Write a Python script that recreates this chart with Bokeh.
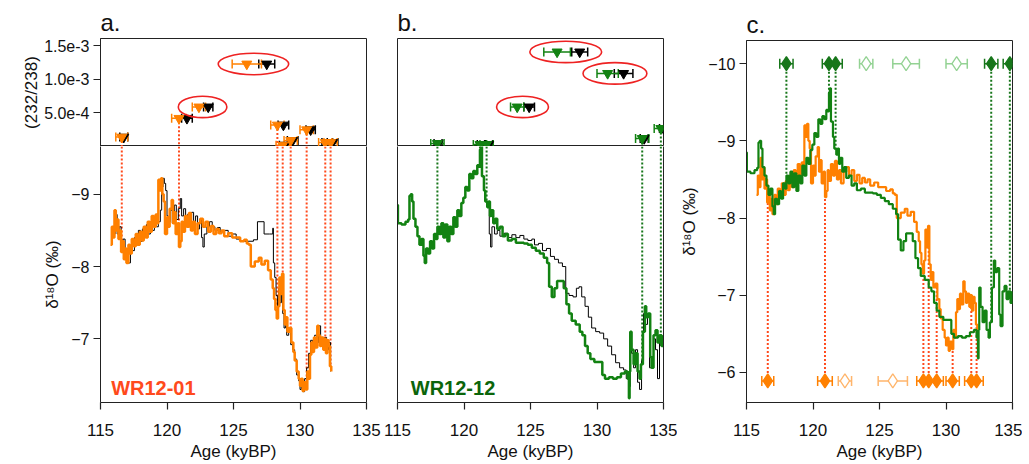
import numpy as np
from bokeh.plotting import figure
from bokeh.models import (Range1d, FixedTicker, Whisker, TeeHead, ColumnDataSource,
                          Label, LinearAxis, PrintfTickFormatter)
from bokeh.layouts import row, column
from bokeh.embed import file_html
from bokeh.resources import INLINE

FONT = "Liberation Sans"

# ---------------- data ----------------
# WR12-01 U/Th dates (corrected = orange, uncorrected = black)
wr01_age = [116.6, 120.9, 122.4, 126.0, 128.3, 128.7, 129.3, 130.5, 131.9, 132.3]
wr01_err = [0.45, 0.55, 0.5, 1.1, 0.5, 0.5, 0.5, 0.5, 0.5, 0.5]
wr01_ratio = [1.4e-4, 4.2e-4, 5.9e-4, 1.23e-3, 3.2e-4, 2e-5, 9e-5, 2.5e-4, 6e-5, 6e-5]
wr01_age_unc = [116.75, 121.5, 123.1, 127.5, 128.75, 128.85, 129.45, 130.8, 132.05, 132.45]
wr01_err_unc = [0.3, 0.4, 0.35, 0.6, 0.4, 0.4, 0.4, 0.35, 0.4, 0.4]
wr01_outlier = [False, False, True, True, False, False, False, False, False, False]

# WR12-12 U/Th dates (corrected = green, uncorrected = black)
wr12_age = [118.0, 121.2, 121.7, 124.0, 127.0, 130.8, 133.4, 134.8]
wr12_err = [0.5, 0.5, 0.5, 0.5, 1.0, 0.8, 0.5, 0.5]
wr12_ratio = [4.5e-5, 3e-5, 3e-5, 5.9e-4, 1.41e-3, 1.09e-3, 1.2e-4, 2.7e-4]
wr12_age_unc = [118.05, 121.3, 121.85, 124.9, 128.7, 132.0, 133.55, 135.0]
wr12_err_unc = [0.3, 0.3, 0.3, 0.4, 0.6, 0.7, 0.3, 0.3]
wr12_outlier = [False, False, False, True, True, True, False, False]

# WR12-01 d18O record (final age model, orange)
wr01_curve_age = [115.75, 115.85, 115.95, 116.05, 116.15, 116.25, 116.35, 116.45, 116.55, 116.65,
                  116.75, 116.85, 116.95, 117.1, 117.2, 117.35, 117.5, 117.65, 117.8, 117.95,
                  118.1, 118.25, 118.4, 118.55, 118.7, 118.85, 119.0, 119.15, 119.25, 119.35,
                  119.45, 119.55, 119.65, 119.75, 119.85, 120.0, 120.1, 120.2, 120.35, 120.45,
                  120.55, 120.65, 120.8, 120.9, 121.0, 121.1, 121.2, 121.35, 121.5, 121.65,
                  121.8, 121.95, 122.1, 122.3, 122.5, 122.7, 122.9, 123.1, 123.3, 123.5,
                  123.7, 123.9, 124.1, 124.3, 124.6, 124.9, 125.2, 125.5, 125.8, 126.0,
                  126.15, 126.3, 126.6, 126.9, 127.1, 127.35, 127.6, 127.8, 127.95, 128.05,
                  128.15, 128.25, 128.35, 128.45, 128.55, 128.65, 128.75, 128.85, 128.95, 129.05,
                  129.2, 129.35, 129.5, 129.6, 129.75, 129.9, 130.0, 130.1, 130.2, 130.3,
                  130.45, 130.55, 130.65, 130.75, 130.85, 130.95, 131.05, 131.15, 131.3, 131.4,
                  131.5, 131.6, 131.75, 131.85, 131.95, 132.05, 132.15, 132.25, 132.35]
wr01_curve_d18o = [-8.30, -8.55, -8.40, -8.78, -8.50, -8.65, -8.38, -8.50, -8.20, -8.35,
                   -8.10, -8.25, -8.05, -8.30, -8.18, -8.38, -8.28, -8.45, -8.30, -8.48,
                   -8.36, -8.55, -8.40, -8.62, -8.48, -8.70, -8.55, -8.72, -8.60, -9.20,
                   -9.05, -9.22, -9.00, -8.90, -8.45, -8.68, -8.55, -8.80, -8.92, -8.60,
                   -8.75, -8.45, -8.60, -8.27, -8.35, -8.62, -8.48, -8.70, -8.55, -8.74,
                   -8.50, -8.62, -8.45, -8.60, -8.66, -8.55, -8.62, -8.48, -8.56, -8.45,
                   -8.52, -8.46, -8.50, -8.42, -8.46, -8.40, -8.40, -8.35, -8.37, -8.32,
                   -8.30, -8.00, -8.07, -8.12, -8.03, -8.08, -7.95, -7.82, -7.70, -7.55,
                   -7.40, -7.28, -7.45, -7.85, -7.62, -7.90, -7.40, -7.20, -7.30, -7.10,
                   -7.15, -6.95, -6.82, -6.70, -6.55, -6.45, -6.35, -6.45, -6.28, -6.40,
                   -6.30, -6.55, -6.45, -6.78, -6.95, -6.82, -7.02, -6.88, -7.18, -7.05,
                   -6.90, -7.02, -6.85, -7.00, -6.80, -6.98, -6.90, -6.62, -6.55]

# WR12-01 d18O record (previous age model, black)
wr01_old_age = [115.8, 115.9, 116.0, 116.1, 116.25, 116.4, 116.55, 116.7, 116.85, 117.0,
                117.1, 117.25, 117.4, 117.55, 117.7, 117.85, 118.0, 118.15, 118.3, 118.45,
                118.6, 118.75, 118.9, 119.05, 119.2, 119.35, 119.5, 119.6, 119.7, 119.8,
                119.9, 120.0, 120.1, 120.25, 120.4, 120.55, 120.7, 120.85, 121.0, 121.1,
                121.25, 121.4, 121.55, 121.7, 121.85, 122.0, 122.15, 122.3, 122.45, 122.6,
                122.7, 122.8, 123.0, 123.2, 123.4, 123.6, 123.8, 124.0, 124.3, 124.6,
                124.9, 125.2, 125.5, 125.8, 126.1, 126.5, 126.8, 127.3, 127.7, 127.95,
                128.0, 128.1, 128.2, 128.3, 128.4, 128.5, 128.6, 128.7, 128.8, 128.9,
                129.0, 129.15, 129.3, 129.45, 129.6, 129.75, 129.9, 130.0, 130.1, 130.2,
                130.35, 130.5, 130.65, 130.8, 130.95, 131.1, 131.25, 131.4, 131.55, 131.7,
                131.85, 132.0, 132.15, 132.3]
wr01_old_d18o = [-8.35, -8.55, -8.45, -8.72, -8.45, -8.55, -8.28, -8.38, -8.15, -8.25,
                 -8.05, -8.28, -8.22, -8.40, -8.30, -8.50, -8.35, -8.52, -8.42, -8.58,
                 -8.45, -8.62, -8.50, -8.68, -8.55, -8.62, -8.78, -9.10, -9.22, -9.15,
                 -9.05, -8.70, -8.62, -8.78, -8.60, -8.85, -8.65, -8.80, -8.94, -8.70,
                 -8.80, -8.60, -8.72, -8.55, -8.75, -8.58, -8.70, -8.52, -8.65, -8.40,
                 -8.27, -8.45, -8.55, -8.62, -8.55, -8.50, -8.54, -8.48, -8.50, -8.42,
                 -8.45, -8.38, -8.36, -8.35, -8.35, -8.37, -8.62, -8.45, -8.45, -8.53,
                 -8.05, -7.85, -7.60, -7.45, -7.70, -7.50, -7.85, -7.35, -7.15, -7.25,
                 -7.05, -7.12, -6.92, -6.85, -6.72, -6.50, -6.42, -6.30, -6.42, -6.27,
                 -6.45, -6.60, -6.80, -6.98, -6.85, -7.05, -6.95, -7.18, -7.00, -6.92,
                 -7.02, -6.85, -6.95, -6.55]

# WR12-12 d18O record (final age model, green)
wr12_curve_age = [115.0, 115.03, 115.3, 115.6, 115.8, 115.9, 116.0, 116.1, 116.2, 116.35, 116.5,
                  116.65, 116.8, 116.95, 117.05, 117.15, 117.3, 117.45, 117.6, 117.75, 117.9,
                  118.0, 118.15, 118.3, 118.45, 118.6, 118.75, 118.9, 119.05, 119.2, 119.35,
                  119.5, 119.65, 119.8, 119.95, 120.1, 120.25, 120.4, 120.55, 120.7, 120.85,
                  121.0, 121.1, 121.2, 121.27, 121.35, 121.5, 121.6, 121.75, 121.85, 121.95,
                  122.05, 122.2, 122.35, 122.5, 122.7, 122.9, 123.1, 123.3, 123.6, 123.9,
                  124.2, 124.5, 124.8, 125.1, 125.4, 125.7, 126.0, 126.25, 126.4, 126.6,
                  126.8, 127.0, 127.3, 127.5, 127.7, 127.9, 128.1, 128.4, 128.7, 128.9,
                  129.1, 129.3, 129.5, 129.8, 130.1, 130.4, 130.6, 130.9, 131.2, 131.5,
                  131.8, 132.1, 132.3, 132.4, 132.45, 132.5, 132.6, 132.75, 132.9, 133.05,
                  133.2, 133.3, 133.45, 133.6, 133.7, 133.85, 134.0, 134.1, 134.25, 134.4,
                  134.55, 134.7, 134.85, 135.0]
wr12_curve_d18o = [-8.85, -8.60, -8.58, -8.62, -8.65, -8.98, -9.00, -8.90, -8.66, -8.55, -8.42,
                   -8.30, -8.38, -8.15, -8.05, -8.25, -8.18, -8.35, -8.25, -8.45, -8.38,
                   -8.55, -8.45, -8.60, -8.40, -8.58, -8.35, -8.55, -8.45, -8.68, -8.55,
                   -8.78, -8.70, -8.88, -8.95, -9.10, -9.05, -9.28, -9.22, -9.32, -9.28,
                   -9.40, -9.38, -9.62, -9.68, -9.25, -9.05, -8.90, -8.82, -8.90, -8.70,
                   -8.78, -8.60, -8.66, -8.52, -8.55, -8.42, -8.45, -8.36, -8.38, -8.33,
                   -8.33, -8.32, -8.30, -8.26, -8.22, -8.18, -8.12, -8.05, -7.72, -7.58,
                   -7.70, -7.80, -7.80, -7.70, -7.48, -7.35, -7.25, -7.20, -7.10, -7.05,
                   -6.90, -6.80, -6.72, -6.68, -6.68, -6.50, -6.45, -6.47, -6.45, -6.47,
                   -6.52, -6.55, -6.45, -6.18, -6.55, -7.10, -6.85, -6.65, -6.80, -6.55,
                   -6.45, -6.65, -7.10, -7.45, -7.30, -7.35, -6.75, -6.60, -7.05, -7.12,
                   -6.95, -7.05, -6.90, -7.05]

# WR12-12 d18O record (previous age model, black)
wr12_old_age = [121.85, 121.9, 122.0, 122.1, 122.3, 122.5, 122.7, 123.0, 123.3, 123.6,
                123.9, 124.2, 124.5, 124.8, 125.1, 125.3, 125.6, 125.9, 126.2, 126.5,
                126.8, 127.1, 127.4, 127.65, 127.9, 128.2, 128.45, 128.65, 128.85, 129.1,
                129.35, 129.6, 129.9, 130.2, 130.5, 130.8, 131.1, 131.4, 131.7, 132.0,
                132.2, 132.4, 132.5, 132.6, 132.75, 132.9, 133.05, 133.2, 133.35, 133.5,
                133.65, 133.8, 133.95, 134.1, 134.25, 134.4, 134.55, 134.7, 134.8]
wr12_old_d18o = [-8.88, -8.45, -8.27, -8.55, -8.45, -8.50, -8.42, -8.46, -8.40, -8.44,
                 -8.40, -8.43, -8.38, -8.36, -8.38, -8.30, -8.32, -8.22, -8.25, -8.14,
                 -8.10, -8.05, -8.00, -7.63, -7.60, -7.58, -7.70, -7.72, -7.58, -7.45,
                 -7.30, -7.15, -7.10, -7.08, -7.00, -6.90, -6.78, -6.67, -6.60, -6.57,
                 -6.45, -6.34, -6.95, -6.80, -6.60, -6.85, -6.40, -6.30, -6.70, -7.35,
                 -7.20, -7.30, -6.60, -6.75, -7.00, -6.85, -6.45, -7.00, -6.90]

# ---------------- styling constants ----------------
ORANGE = "#FF8000"
ORANGE_LIGHT = "#FFB56B"
RED_DOT = "#FF4A1C"
GREEN = "#128212"
GREEN_DARK = "#17761A"
GREEN_LIGHT = "#93D293"
ELLIPSE = "#EE2222"
FRAME = "#222222"

X_RANGE = (115, 135)
RATIO_RANGE = (0.0, 1.61e-3)
D18O_AB = (-6.12, -9.66)     # (bottom, top) -> reversed axis
D18O_C = (-5.61, -10.30)
C_TOP_ROW = -10.0
C_BOTTOM_ROW = -5.89

FW_AB, FW_C = 266, 269
TOP_H, BOT_H, C_H = 108, 257, 363
BB = 60


def curve_at(ages, vals, x):
    i = int(np.searchsorted(ages, x, side="right")) - 1
    i = max(0, min(i, len(vals) - 1))
    return vals[i]


def base_fig(fw, fh, bl, br, bt, bb, yr, title=None, outline=True):
    p = figure(x_range=Range1d(*X_RANGE), y_range=Range1d(*yr),
               width=bl + fw + br, height=bt + fh + bb,
               min_border_left=bl, min_border_right=br,
               min_border_top=bt, min_border_bottom=bb,
               toolbar_location=None, output_backend="svg",
               x_axis_location=None, y_axis_location=None,
               title=title)
    p.grid.visible = False
    p.outline_line_color = FRAME if outline else None
    p.outline_line_width = 1.0
    p.background_fill_color = "white"
    p.border_fill_color = "white"
    if title:
        p.title.text_font = FONT
        p.title.text_font_size = "24px"
        p.title.text_font_style = "normal"
        p.title.text_color = "#111111"
        p.title.align = "left"
        p.title.standoff = 6
    return p


def style_axis(ax, size="16px"):
    ax.major_tick_out = 7
    ax.major_tick_in = 0
    ax.minor_tick_out = 0
    ax.minor_tick_in = 0
    ax.major_tick_line_width = 1.2
    ax.axis_line_width = 1.0
    ax.axis_line_color = FRAME
    ax.major_tick_line_color = FRAME
    ax.major_label_text_font = FONT
    ax.major_label_text_font_size = size
    ax.major_label_text_color = "#111111"
    ax.axis_label_text_font = FONT
    ax.axis_label_text_font_size = "17px"
    ax.axis_label_text_font_style = "normal"
    ax.axis_label_text_color = "#111111"
    ax.major_label_standoff = 4
    ax.axis_label_standoff = 6


def add_blank_axis(p, side):
    ax = LinearAxis(ticker=FixedTicker(ticks=[]))
    ax.axis_line_color = FRAME
    ax.axis_line_width = 1.0
    ax.major_tick_line_color = None
    ax.minor_tick_line_color = None
    ax.major_label_text_font_size = "0px"
    p.add_layout(ax, side)


def add_xaxis(p):
    ax = LinearAxis(ticker=FixedTicker(ticks=[115, 120, 125, 130, 135]), axis_label="Age (kyBP)")
    style_axis(ax, "17px")
    ax.major_label_standoff = 14
    ax.axis_label_standoff = 3
    p.add_layout(ax, "below")


def add_dates_top(p, ages, errs, ratios, ages_unc, errs_unc, outlier, color, guide_color):
    keep = [i for i in range(len(ages)) if not outlier[i]]
    p.segment(x0=[ages[i] for i in keep], y0=[ratios[i] for i in keep],
              x1=[ages[i] for i in keep], y1=[RATIO_RANGE[0]] * len(keep),
              line_color=guide_color, line_dash="2 2", line_width=2)
    s_unc = ColumnDataSource(dict(y=ratios, lo=[a - e for a, e in zip(ages_unc, errs_unc)],
                                  hi=[a + e for a, e in zip(ages_unc, errs_unc)], x=ages_unc))
    p.add_layout(Whisker(source=s_unc, base="y", lower="lo", upper="hi", dimension="width",
                         line_color="black", line_width=1.5,
                         lower_head=TeeHead(size=9, line_color="black", line_width=1.5),
                         upper_head=TeeHead(size=9, line_color="black", line_width=1.5)))
    p.scatter("x", "y", source=s_unc, marker="inverted_triangle", size=10,
              fill_color="black", line_color="black")
    s_c = ColumnDataSource(dict(y=ratios, lo=[a - e for a, e in zip(ages, errs)],
                                hi=[a + e for a, e in zip(ages, errs)], x=ages))
    p.add_layout(Whisker(source=s_c, base="y", lower="lo", upper="hi", dimension="width",
                         line_color=color, line_width=1.5,
                         lower_head=TeeHead(size=9, line_color=color, line_width=1.5),
                         upper_head=TeeHead(size=9, line_color=color, line_width=1.5)))
    p.scatter("x", "y", source=s_c, marker="inverted_triangle", size=10,
              fill_color=color, line_color=color)
    pad = 1.05
    ex, ew, ey = [], [], []
    for i in range(len(ages)):
        if outlier[i]:
            left = ages[i] - errs[i]
            right = ages_unc[i] + errs_unc[i]
            ex.append((left + right) / 2)
            ew.append(right - left + 2 * pad)
            ey.append(ratios[i])
    p.ellipse(x=ex, y=ey, width=ew, height=[3.2e-4] * len(ex),
              fill_color=None, line_color=ELLIPSE, line_width=1.6)


def add_guides_bottom(p, ages, outlier, c_age, c_val, color, y_from):
    keep = [i for i in range(len(ages)) if not outlier[i]]
    xs = [ages[i] for i in keep]
    ys = [curve_at(c_age, c_val, a) for a in xs]
    p.segment(x0=xs, y0=[y_from] * len(xs), x1=xs, y1=ys,
              line_color=color, line_dash="2 2", line_width=2)


# ---------------- panel a ----------------
a_top = base_fig(FW_AB, TOP_H, 100, 15, 38, 0, RATIO_RANGE, title="a.")
ay = LinearAxis(ticker=FixedTicker(ticks=[5e-4, 1e-3, 1.5e-3]),
                formatter=PrintfTickFormatter(format="%.1e"), axis_label="(232/238)")
style_axis(ay)
ay.axis_label_standoff = 0
a_top.add_layout(ay, "left")
add_dates_top(a_top, wr01_age, wr01_err, wr01_ratio, wr01_age_unc, wr01_err_unc,
              wr01_outlier, ORANGE, RED_DOT)

a_bot = base_fig(FW_AB, BOT_H, 100, 15, 0, BB, D18O_AB, outline=False)
ay2 = LinearAxis(ticker=FixedTicker(ticks=[-9, -8, -7]), axis_label="δ¹⁸O (‰)")
style_axis(ay2)
a_bot.add_layout(ay2, "left")
add_xaxis(a_bot)
add_blank_axis(a_bot, "right")
add_guides_bottom(a_bot, wr01_age, wr01_outlier, wr01_curve_age, wr01_curve_d18o, RED_DOT, D18O_AB[1])
a_bot.step(wr01_old_age, wr01_old_d18o, mode="after", line_color="black", line_width=1)
a_bot.step(wr01_curve_age, wr01_curve_d18o, mode="after", line_color=ORANGE, line_width=2.5)
a_bot.add_layout(Label(x=115.8, y=-6.32, text="WR12-01", text_font=FONT, text_font_size="20px",
                       text_font_style="bold", text_color="#FF4A1C", text_baseline="alphabetic"))

# ---------------- panel b ----------------
b_top = base_fig(FW_AB, TOP_H, 16, 14, 38, 0, RATIO_RANGE, title="b.")
add_dates_top(b_top, wr12_age, wr12_err, wr12_ratio, wr12_age_unc, wr12_err_unc,
              wr12_outlier, GREEN, GREEN_DARK)

b_bot = base_fig(FW_AB, BOT_H, 16, 14, 0, BB, D18O_AB, outline=False)
add_xaxis(b_bot)
add_blank_axis(b_bot, "left")
add_blank_axis(b_bot, "right")
add_guides_bottom(b_bot, wr12_age, wr12_outlier, wr12_curve_age, wr12_curve_d18o, GREEN_DARK, D18O_AB[1])
b_bot.step(wr12_old_age, wr12_old_d18o, mode="after", line_color="black", line_width=1)
b_bot.step(wr12_curve_age, wr12_curve_d18o, mode="after", line_color=GREEN, line_width=2.5)
b_bot.add_layout(Label(x=116.0, y=-6.32, text="WR12-12", text_font=FONT, text_font_size="20px",
                       text_font_style="bold", text_color="#0B650B", text_baseline="alphabetic"))

# ---------------- panel c ----------------
c = base_fig(FW_C, C_H, 66, 10, 40, BB, D18O_C, title="c.")
cy = LinearAxis(ticker=FixedTicker(ticks=[-10, -9, -8, -7, -6]), axis_label="δ¹⁸O (‰)")
style_axis(cy)
c.add_layout(cy, "left")
add_xaxis(c)

add_guides_bottom(c, wr12_age, wr12_outlier, wr12_curve_age, wr12_curve_d18o, GREEN_DARK, C_TOP_ROW)
add_guides_bottom(c, wr01_age, wr01_outlier, wr01_curve_age, wr01_curve_d18o, RED_DOT, C_BOTTOM_ROW)
c.step(wr01_curve_age, wr01_curve_d18o, mode="after", line_color=ORANGE, line_width=2.2)
c.step(wr12_curve_age, wr12_curve_d18o, mode="after", line_color=GREEN, line_width=2.2)


def add_diamonds(p, ages, errs, outlier, yrow, fill_col, light_col):
    for is_out in (True, False):
        idx = [i for i in range(len(ages)) if outlier[i] == is_out]
        col = light_col if is_out else fill_col
        src = ColumnDataSource(dict(x=[ages[i] for i in idx], y=[yrow] * len(idx),
                                    lo=[ages[i] - errs[i] for i in idx],
                                    hi=[ages[i] + errs[i] for i in idx]))
        p.add_layout(Whisker(source=src, base="y", lower="lo", upper="hi", dimension="width",
                             line_color=col, line_width=1.5,
                             lower_head=TeeHead(size=10, line_color=col, line_width=1.5),
                             upper_head=TeeHead(size=10, line_color=col, line_width=1.5)))
        p.scatter("x", "y", source=src, marker="diamond", size=14,
                  fill_color=("white" if is_out else col), line_color=col, line_width=1.3)


add_diamonds(c, wr12_age, wr12_err, wr12_outlier, C_TOP_ROW, GREEN_DARK, GREEN_LIGHT)
add_diamonds(c, wr01_age, wr01_err, wr01_outlier, C_BOTTOM_ROW, ORANGE, ORANGE_LIGHT)

layout = row(column(a_top, a_bot), column(b_top, b_bot), c)
open("out.html", "w").write(file_html(layout, INLINE))
